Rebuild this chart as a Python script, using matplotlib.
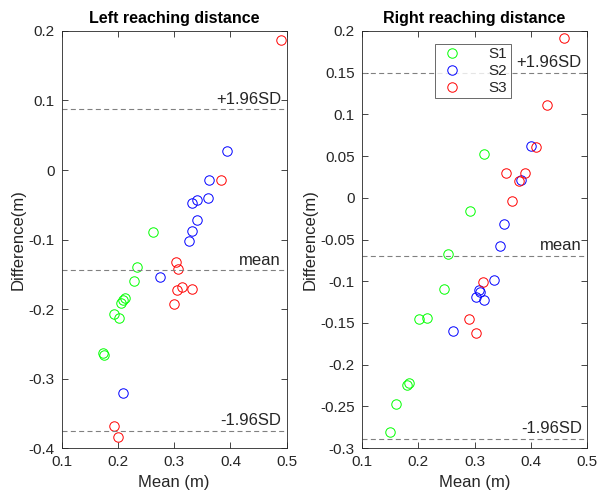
import matplotlib
matplotlib.use("Agg")
import matplotlib.pyplot as plt
from matplotlib.ticker import FuncFormatter
import numpy as np

plt.rcParams['font.family'] = ['Liberation Sans', 'DejaVu Sans']
plt.rcParams['axes.unicode_minus'] = False

# Left reaching distance
left_s1_mean = [0.263, 0.234, 0.229, 0.213, 0.2095, 0.206, 0.193, 0.2024, 0.174, 0.1752]
left_s1_diff = [-0.0897, -0.140, -0.1597, -0.1846, -0.187, -0.191, -0.2072, -0.2134, -0.264, -0.266]
left_s2_mean = [0.3933, 0.3624, 0.360, 0.340, 0.332, 0.340, 0.332, 0.3263, 0.2753, 0.2084]
left_s2_diff = [0.0278, -0.0148, -0.0403, -0.0436, -0.0475, -0.0719, -0.0873, -0.1026, -0.1544, -0.3213]
left_s3_mean = [0.4899, 0.3827, 0.3032, 0.3062, 0.3044, 0.3144, 0.3311, 0.2996, 0.193, 0.2001]
left_s3_diff = [0.1866, -0.0148, -0.1319, -0.1429, -0.1727, -0.1683, -0.1717, -0.1933, -0.3688, -0.3842]
left_lines = {'+1.96SD': 0.0873, 'mean': -0.1443, '-1.96SD': -0.3755}

# Right reaching distance
right_s1_mean = [0.3174, 0.2926, 0.2525, 0.2465, 0.2021, 0.2163, 0.1839, 0.1803, 0.1603, 0.1507]
right_s1_diff = [0.0523, -0.0164, -0.0669, -0.1097, -0.1449, -0.1445, -0.2221, -0.225, -0.2473, -0.2809]
right_s2_mean = [0.4002, 0.383, 0.3528, 0.3447, 0.3346, 0.3085, 0.3092, 0.3027, 0.3168, 0.2613]
right_s2_diff = [0.0619, 0.0211, -0.0317, -0.0579, -0.0981, -0.1101, -0.1133, -0.1185, -0.1221, -0.1597]
right_s3_mean = [0.4592, 0.428, 0.409, 0.3553, 0.3895, 0.3794, 0.3665, 0.3151, 0.2908, 0.3027]
right_s3_diff = [0.1916, 0.1116, 0.0607, 0.0292, 0.0295, 0.0204, -0.0044, -0.1013, -0.1449, -0.1621]
right_lines = {'+1.96SD': 0.1495, 'mean': -0.0695, '-1.96SD': -0.2893}

series_labels = ['S1', 'S2', 'S3']
series_colors = ['#00ff00', '#0000ff', '#ff0000']

fig = plt.figure(figsize=(5.97, 4.92), dpi=100)
axL = fig.add_axes([0.1034, 0.0894, 0.3769, 0.8476])
axR = fig.add_axes([0.6059, 0.0894, 0.3779, 0.8476])

txtc = '#262626'

def fmtfun(v, p):
    v = round(v, 4)
    if abs(v) < 1e-9:
        return '0'
    return '%g' % v

def style(ax, yticks, ylim):
    ax.set_xlim(0.1, 0.5)
    ax.set_ylim(*ylim)
    ax.set_xticks([0.1, 0.2, 0.3, 0.4, 0.5])
    ax.set_yticks(yticks)
    fmt = FuncFormatter(fmtfun)
    ax.xaxis.set_major_formatter(fmt)
    ax.yaxis.set_major_formatter(fmt)
    ax.tick_params(direction='in', top=True, right=True, length=4, width=0.6,
                   colors=txtc, labelsize=11, pad=5)
    for s in ax.spines.values():
        s.set_color(txtc)
        s.set_linewidth(0.6)
    ax.set_xlabel('Mean (m)', fontsize=12, color=txtc, labelpad=4)
    ax.set_ylabel('Difference(m)', fontsize=12, color=txtc, labelpad=2)

def draw(ax, data, lines, title):
    for (m, d), lab, c in zip(data, series_labels, series_colors):
        ax.plot(m, d, 'o', mfc='none', mec=c, mew=0.7, ms=6.8, label=lab)
    for name, v in lines.items():
        ax.axhline(v, color='#808080', lw=0.8, dashes=(4.5, 3))
        ax.annotate(name, xy=(0.975, v), xycoords=ax.get_yaxis_transform(),
                    xytext=(0, 2), textcoords='offset points',
                    ha='right', va='bottom', fontsize=12, color=txtc)
    ax.set_title(title, fontsize=11.5, fontweight='bold', color='black', pad=6)

draw(axL, [(left_s1_mean, left_s1_diff), (left_s2_mean, left_s2_diff), (left_s3_mean, left_s3_diff)],
     left_lines, 'Left reaching distance')
style(axL, np.round(np.arange(-0.4, 0.2001, 0.1), 2), (-0.4, 0.2))

draw(axR, [(right_s1_mean, right_s1_diff), (right_s2_mean, right_s2_diff), (right_s3_mean, right_s3_diff)],
     right_lines, 'Right reaching distance')
style(axR, np.round(np.arange(-0.3, 0.2001, 0.05), 2), (-0.3, 0.2))

leg = axR.legend(loc='upper left', bbox_to_anchor=(0.325, 0.97), borderaxespad=0,
                 frameon=True, fancybox=False,
                 edgecolor=txtc, fontsize=11, handletextpad=1.5, borderpad=0.22,
                 labelspacing=0.2, handlelength=1.8, markerfirst=True)
leg.get_frame().set_linewidth(0.6)
for t in leg.get_texts():
    t.set_color(txtc)

fig.savefig('out.png', dpi=100)
